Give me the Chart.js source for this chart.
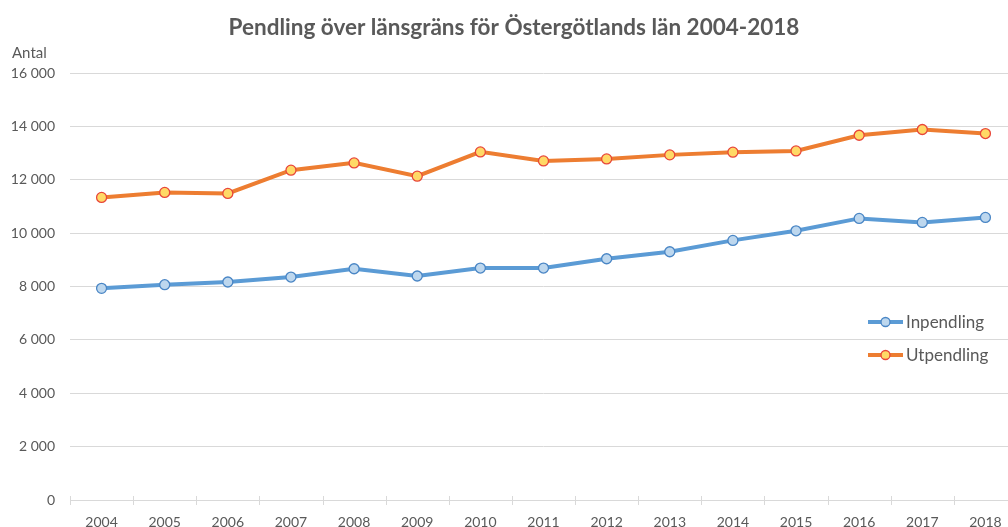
<!DOCTYPE html>
<html><head><meta charset="utf-8">
<script src="https://cdn.jsdelivr.net/npm/chart.js@4.4.1/dist/chart.umd.min.js"></script>
<style>
html,body{margin:0;padding:0;background:#fff;overflow:hidden;width:1008px;height:527px}
#wrap{position:absolute;left:0;top:0;width:1034px;height:527px}
</style></head>
<body>
<div id="wrap"><canvas id="c" width="1034" height="527"></canvas></div>
<script>
const years = ['2004','2005','2006','2007','2008','2009','2010','2011','2012','2013','2014','2015','2016','2017','2018'];
const inpendling = [7930,8067,8168,8355,8666,8393,8692,8692,9040,9302,9728,10088,10552,10402,10589];
const utpendling = [11337,11525,11487,12359,12632,12135,13044,12707,12782,12932,13033,13081,13668,13882,13732];
const yTickValues = [0,2000,4000,6000,8000,10000,12000,14000,16000];
const titleText = 'Pendling över länsgräns för Östergötlands län 2004-2018';
const yUnitText = 'Antal';

const FONT = 'Lato, "Open Sans", sans-serif';
const GREY = '#595959';

const fmt = v => String(v).replace(/\B(?=(\d{3})+(?!\d))/g, ' ');

const extras = {
  id: 'extras',
  afterDraw(chart) {
    const ctx = chart.ctx, a = chart.chartArea, x = chart.scales.x;
    ctx.save();
    ctx.strokeStyle = '#d9d9d9'; ctx.lineWidth = 1;
    const n = years.length;
    for (let i = 0; i <= n; i++) {
      const px = Math.round(x.getPixelForValue(i - 0.5)) + 0.5;
      ctx.beginPath(); ctx.moveTo(px, a.bottom - 4); ctx.lineTo(px, a.bottom + 5); ctx.stroke();
    }
    ctx.fillStyle = GREY; ctx.font = '15px ' + FONT; ctx.textAlign = 'left'; ctx.textBaseline = 'middle';
    ctx.fillText(yUnitText, 12, 53);
    const ds = chart.data.datasets;
    const lx = 868, ly = [322, 355];
    ds.forEach((d, i) => {
      const y = ly[i];
      ctx.strokeStyle = d.borderColor; ctx.lineWidth = 4; ctx.lineCap = 'butt';
      ctx.beginPath(); ctx.moveTo(lx, y); ctx.lineTo(lx + 35, y); ctx.stroke();
      ctx.beginPath(); ctx.arc(lx + 17.5, y, 4.5, 0, Math.PI * 2);
      ctx.fillStyle = d.pointBackgroundColor; ctx.fill();
      ctx.lineWidth = 1.3; ctx.strokeStyle = d.pointBorderColor; ctx.stroke();
      ctx.fillStyle = GREY; ctx.font = '17px ' + FONT; ctx.textAlign = 'left'; ctx.textBaseline = 'middle';
      ctx.fillText(d.label, lx + 38, y + 1);
    });
    ctx.restore();
  }
};

new Chart(document.getElementById('c'), {
  type: 'line',
  data: {
    labels: years,
    datasets: [
      { label: 'Inpendling', data: inpendling, borderColor: '#5b9bd5', borderWidth: 4,
        pointBackgroundColor: '#bdd7ee', pointBorderColor: '#4a86c5', pointBorderWidth: 1.3,
        pointRadius: 5, tension: 0 },
      { label: 'Utpendling', data: utpendling, borderColor: '#ed7d31', borderWidth: 4,
        pointBackgroundColor: '#ffd966', pointBorderColor: '#e8463a', pointBorderWidth: 1.3,
        pointRadius: 5, tension: 0 }
    ]
  },
  options: {
    responsive: false,
    animation: false,
    events: [],
    layout: { padding: { left: 11, right: 17, top: 0, bottom: 0 } },
    plugins: {
      legend: { display: false },
      tooltip: { enabled: false },
      title: { display: true, text: titleText, color: GREY,
        font: { family: FONT, size: 22.5, weight: 'bold' }, lineHeight: 1.2, padding: { top: 14, bottom: 32 } }
    },
    scales: {
      x: {
        offset: true,
        grid: { display: false, offset: true },
        border: { display: true, color: '#d9d9d9', width: 1 },
        ticks: { color: GREY, font: { family: FONT, size: 14 }, padding: 6, maxRotation: 0, autoSkip: false },
        afterFit(s) { s.height = 27; }
      },
      y: {
        min: 0, max: 16000,
        afterBuildTicks(s) { s.ticks = yTickValues.map(v => ({ value: v })); },
        grid: { color: '#d9d9d9', lineWidth: 1, drawTicks: false },
        border: { display: false },
        ticks: { color: GREY, font: { family: FONT, size: 14 }, padding: 15, callback: v => fmt(v) },
        afterFit(s) { s.width = 59; }
      }
    }
  },
  plugins: [extras]
});
</script>
</body></html>
